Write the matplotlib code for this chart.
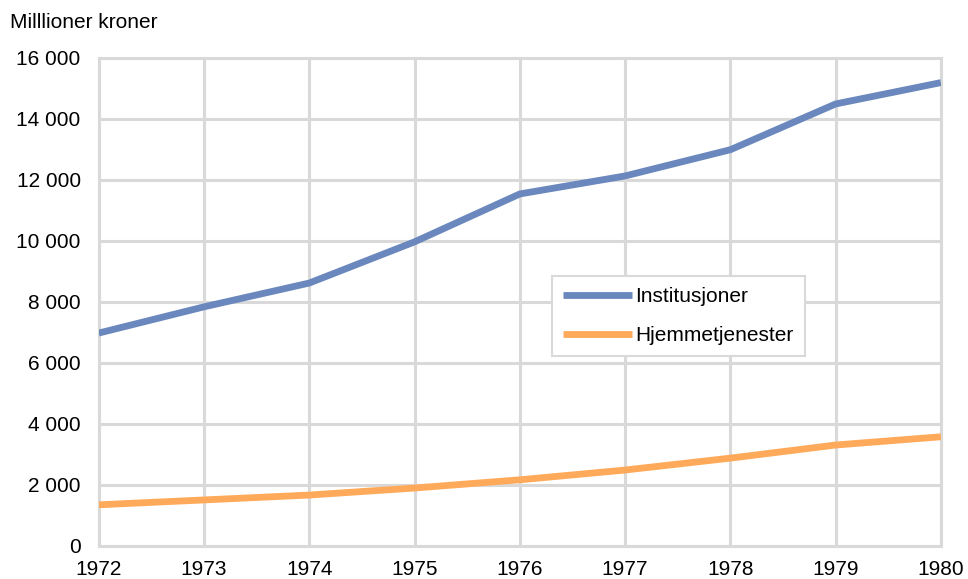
import matplotlib
matplotlib.use("Agg")
import matplotlib.pyplot as plt
from matplotlib.ticker import FuncFormatter

years = [1972, 1973, 1974, 1975, 1976, 1977, 1978, 1979, 1980]
institusjoner = [6980, 7840, 8620, 9970, 11540, 12130, 12990, 14490, 15190]
hjemmetjenester = [1350, 1510, 1670, 1900, 2170, 2490, 2880, 3310, 3580]
yticks = [0, 2000, 4000, 6000, 8000, 10000, 12000, 14000, 16000]

plt.rcParams['font.family'] = ['Liberation Sans', 'DejaVu Sans']

fig = plt.figure(figsize=(9.68, 5.79), dpi=100)
ax = fig.add_axes([0.102, 0.057, 0.870, 0.843])

grid_c = '#d9d9d9'
fs = 15
ax.plot(years, institusjoner, color='#6a88bd', lw=4.9, label='Institusjoner', solid_capstyle='butt', zorder=3)
ax.plot(years, hjemmetjenester, color='#ffaa5a', lw=4.9, label='Hjemmetjenester', solid_capstyle='butt', zorder=3)

ax.set_xlim(1972, 1980)
ax.set_ylim(0, 16000)
ax.set_xticks(years)
ax.set_yticks(yticks)
ax.yaxis.set_major_formatter(FuncFormatter(lambda v, p: f"{int(v):,}".replace(",", " ")))
ax.grid(True, color=grid_c, lw=2.2)
ax.set_axisbelow(True)
for s in ax.spines.values():
    s.set_color(grid_c)
    s.set_linewidth(2.2)
ax.tick_params(length=0, labelsize=fs, colors='black')
ax.tick_params(axis='y', pad=13)
ax.tick_params(axis='x', pad=10)

fig.text(0.010, 0.962, 'Milllioner kroner', fontsize=fs, ha='left', va='center')

leg = ax.legend(loc='center', bbox_to_anchor=(0.688, 0.471), fontsize=fs, frameon=True,
                fancybox=False, edgecolor=grid_c, framealpha=1, handlelength=3.3,
                handletextpad=0.15, labelspacing=0.95, borderpad=0.55, borderaxespad=0)
leg.get_frame().set_linewidth(1.5)

fig.savefig('out.png', dpi=100)
